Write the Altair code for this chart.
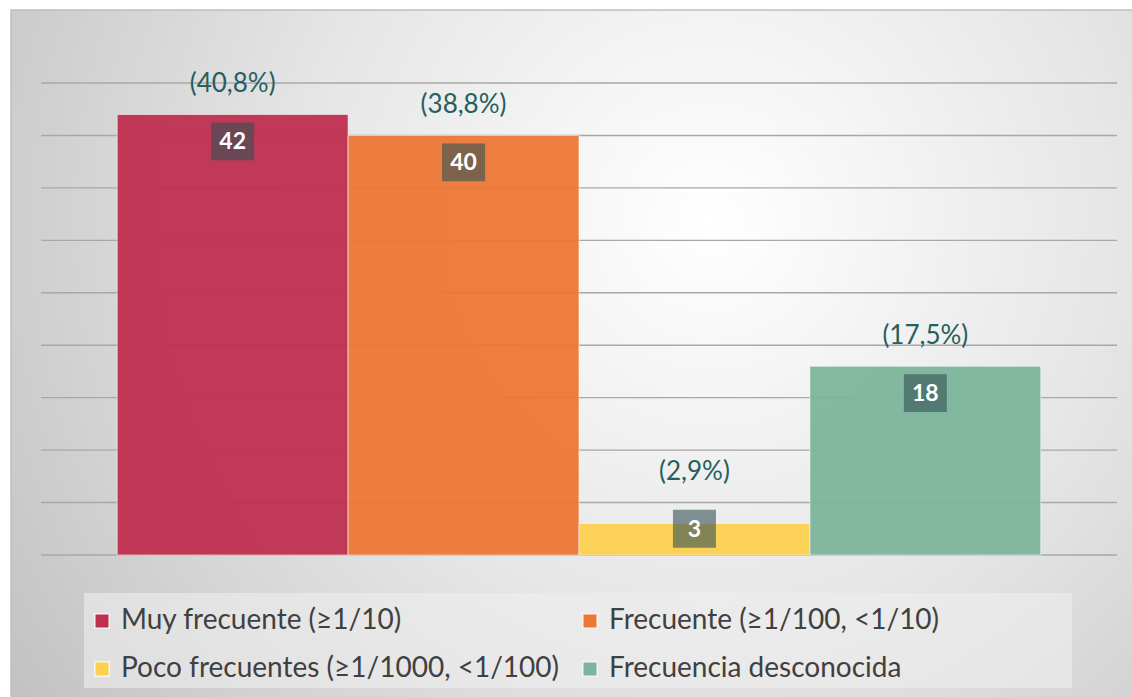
import altair as alt
import pandas as pd

categories = [
    "Muy frecuente  (≥1/10)",
    "Frecuente (≥1/100, <1/10)",
    "Poco frecuentes (≥1/1000, <1/100)",
    "Frecuencia desconocida",
]
counts = [42, 40, 3, 18]
percent_labels = ["(40,8%)", "(38,8%)", "(2,9%)", "(17,5%)"]
colors = ["#bf2f4e", "#ed7735", "#fdd04e", "#7db59c"]
grid_values = [0, 5, 10, 15, 20, 25, 30, 35, 40, 45]

df = pd.DataFrame({"cat": categories, "n": counts, "pct": percent_labels})
grid_df = pd.DataFrame({"g": grid_values})

W, H = 1076, 472
PAD_L, PAD_T, PAD_R, PAD_B = 41, 83, 15, 142
FONT = "Lato"

x_enc = alt.X("cat:N", sort=categories, axis=None,
              scale=alt.Scale(paddingInner=0, paddingOuter=0.33))
y_scale = alt.Scale(domain=[0, 45], nice=False)
color_enc = alt.Color(
    "cat:N", sort=categories,
    scale=alt.Scale(domain=categories, range=colors),
    legend=alt.Legend(
        title=None, orient="none", legendX=47, legendY=524,
        columns=2, direction="horizontal",
        symbolType="square", symbolSize=210, symbolStrokeColor="#f4f4f4",
        symbolStrokeWidth=1.5, symbolOpacity=1,
        labelFont=FONT, labelFontSize=28, labelColor="#404040",
        labelLimit=700, labelOffset=5, rowPadding=20, columnPadding=17,
    ),
)

bg = alt.Chart(alt.Data(values=[{}])).mark_rect(
    fill={
        "gradient": "radial",
        "x1": 0.62, "y1": 0.38, "r1": 0.0,
        "x2": 0.62, "y2": 0.38, "r2": 0.8,
        "stops": [
            {"offset": 0.0, "color": "#ffffff"},
            {"offset": 0.45, "color": "#e6e6e6"},
            {"offset": 1.0, "color": "#bdbdbd"},
        ],
    },
    stroke="#bfbfbf", strokeWidth=1.5,
).encode(
    x=alt.value(11 - PAD_L), x2=alt.value(1140 - PAD_L),
    y=alt.value(10 - PAD_T), y2=alt.value(705 - PAD_T),
)

legend_box = alt.Chart(alt.Data(values=[{}])).mark_rect(
    fill="#eeeeee", opacity=0.6
).encode(
    x=alt.value(84 - PAD_L), x2=alt.value(1072 - PAD_L),
    y=alt.value(593 - PAD_T), y2=alt.value(688 - PAD_T),
)

grid = alt.Chart(grid_df).mark_rule(color="#a8a8a8", strokeWidth=1.4).encode(
    y=alt.Y("g:Q", scale=y_scale, axis=None),
    x=alt.value(0), x2=alt.value(W),
)

base = alt.Chart(df)

bars = base.mark_bar(
    opacity=0.94, stroke="#ffffff", strokeOpacity=0.6, strokeWidth=1
).encode(
    x=x_enc,
    y=alt.Y("n:Q", scale=y_scale, axis=None),
    color=color_enc,
)

# label position: inside the bar top, but kept above the baseline for short bars
lab = base.transform_calculate(ylab="max(datum.n - 2.57, 2.5)")

boxes = lab.mark_point(
    shape="M-1,-0.88L1,-0.88L1,0.88L-1,0.88Z", size=1849, filled=True,
    fill="#325055", opacity=0.6, strokeWidth=0,
).encode(x=x_enc, y=alt.Y("ylab:Q", scale=y_scale, axis=None))

values_txt = lab.mark_text(
    font=FONT, fontSize=23, fontWeight="bold", color="#ffffff",
    baseline="middle", dy=1,
).encode(x=x_enc, y=alt.Y("ylab:Q", scale=y_scale, axis=None), text="n:Q")

pct_txt = lab.mark_text(
    font=FONT, fontSize=26, color="#255f5e", baseline="middle", dy=-57,
).encode(x=x_enc, y=alt.Y("ylab:Q", scale=y_scale, axis=None), text="pct:N")

chart = alt.layer(bg, legend_box, grid, bars, boxes, values_txt, pct_txt).properties(
    width=W, height=H,
    padding={"left": PAD_L, "top": PAD_T, "right": PAD_R, "bottom": PAD_B},
    autosize=alt.AutoSizeParams(type="none"),
    background="#ffffff",
).configure_view(stroke=None)

chart.save("out.html", embed_options={"renderer": "svg", "actions": False})
